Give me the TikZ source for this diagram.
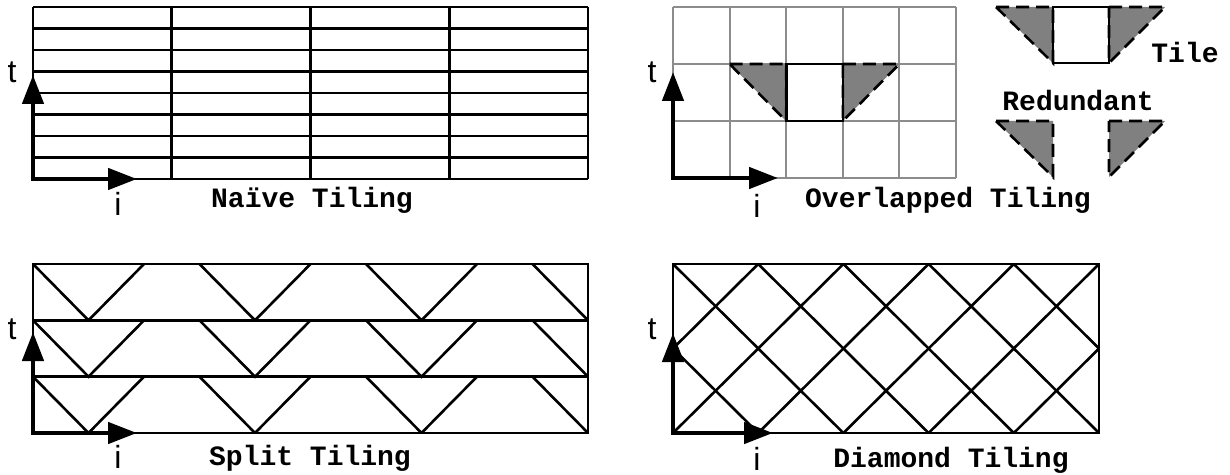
\documentclass[tikz,border=0pt]{standalone}
\usepackage{fontspec}
\setmainfont{Liberation Sans}
\newfontfamily\codefont{Liberation Mono}
\usetikzlibrary{arrows.meta}
\begin{document}
\begin{tikzpicture}[x=0.5pt,y=-0.5pt,line join=miter,>={Triangle[length=14.5pt,width=10.5pt]}]
\tikzset{every node/.style={inner sep=0pt,font=\fontsize{16}{18}\selectfont},
	tiling/.style={line width=1.3pt},
	greyline/.style={line width=1pt,draw=gray!90},
	axis/.style={line width=2.3pt,<->},
	redund/.style={fill=gray,draw=black,line width=1.3pt,dash pattern=on 6.5pt off 3.5pt},
	caption/.style={font=\codefont\bfseries\fontsize{14}{16}\selectfont}}
\useasboundingbox (0,0) rectangle (1230,475);
% naive
\foreach \y in {0,...,8}
	\draw[tiling] (33,{7+\y*21.5})--(588,{7+\y*21.5});
\foreach \x in {0,...,4}
	\draw[tiling] ({33+\x*138.75},7)--({33+\x*138.75},179);
\coordinate (oA) at (33,179);
\draw[axis] (33,75)--(oA)--(137,179);
\node (tA) at (12,72) {t};
\node (iA) at (118,204) {i};
\node[caption] (capA) at (312,200) {Naïve Tiling};
% overlapped
\foreach \x in {0,...,5}
	\draw[greyline] ({673+\x*56.6},7)--({673+\x*56.6},178);
\foreach \y in {0,...,3}
	\draw[greyline] (673,{7+\y*57})--(956,{7+\y*57});
\draw[redund] (729.6,64)--(786.2,64)--(786.2,121)--cycle;
\draw[redund] (842.8,64)--(899.4,64)--(842.8,121)--cycle;
\draw[tiling] (786.2,64) rectangle (842.8,121);
\coordinate (oB) at (673,178);
\draw[axis] (673,72)--(oB)--(778,178);
\node (tB) at (652,72) {t};
\node (iB) at (757,206) {i};
\node[caption] (capB) at (948,200) {Overlapped Tiling};
\draw[redund] (996,7)--(1053,7)--(1053,63)--cycle;
\draw[redund] (1109,7)--(1165,7)--(1109,63)--cycle;
\draw[tiling] (1053,7) rectangle (1109,63);
\node[caption] (tile) at (1185,52) {Tile};
\node[caption] (red) at (1078,100) {Redundant};
\draw[redund] (996,121)--(1053,121)--(1053,177)--cycle;
\draw[redund] (1109,121)--(1165,121)--(1109,177)--cycle;
% split
\begin{scope}
	\clip (33,264) rectangle (588,433);
	\foreach \r in {0,1,2}
		\foreach \k in {0,...,3}
			\draw[tiling] ({33+3*\k*55.5},{264+\r*56.33})--({33+(3*\k+1)*55.5},{264+(\r+1)*56.33})--({33+(3*\k+2)*55.5},{264+\r*56.33});
\end{scope}
\foreach \r in {1,2}
	\draw[tiling] (33,{264+\r*56.33})--(588,{264+\r*56.33});
\draw[tiling] (33,264) rectangle (588,433);
\coordinate (oC) at (33,433);
\draw[axis] (33,332)--(oC)--(137,433);
\node (tC) at (12,329) {t};
\node (iC) at (118,457) {i};
\node[caption] (capC) at (310,458) {Split Tiling};
% diamond
\begin{scope}
	\clip (673,264) rectangle (1099,433);
	\foreach \k in {-2,...,5}
		\draw[tiling] ({673+\k*85.2},264)--({673+(\k+2)*85.2},433);
	\foreach \k in {0,...,7}
		\draw[tiling] ({673+\k*85.2},264)--({673+(\k-2)*85.2},433);
\end{scope}
\draw[tiling] (673,264) rectangle (1099,433);
\coordinate (oD) at (673,433);
\draw[axis] (673,333)--(oD)--(773,433);
\node (tD) at (652,329) {t};
\node (iD) at (757,459) {i};
\node[caption] (capD) at (951,460) {Diamond Tiling};
\end{tikzpicture}
\end{document}
